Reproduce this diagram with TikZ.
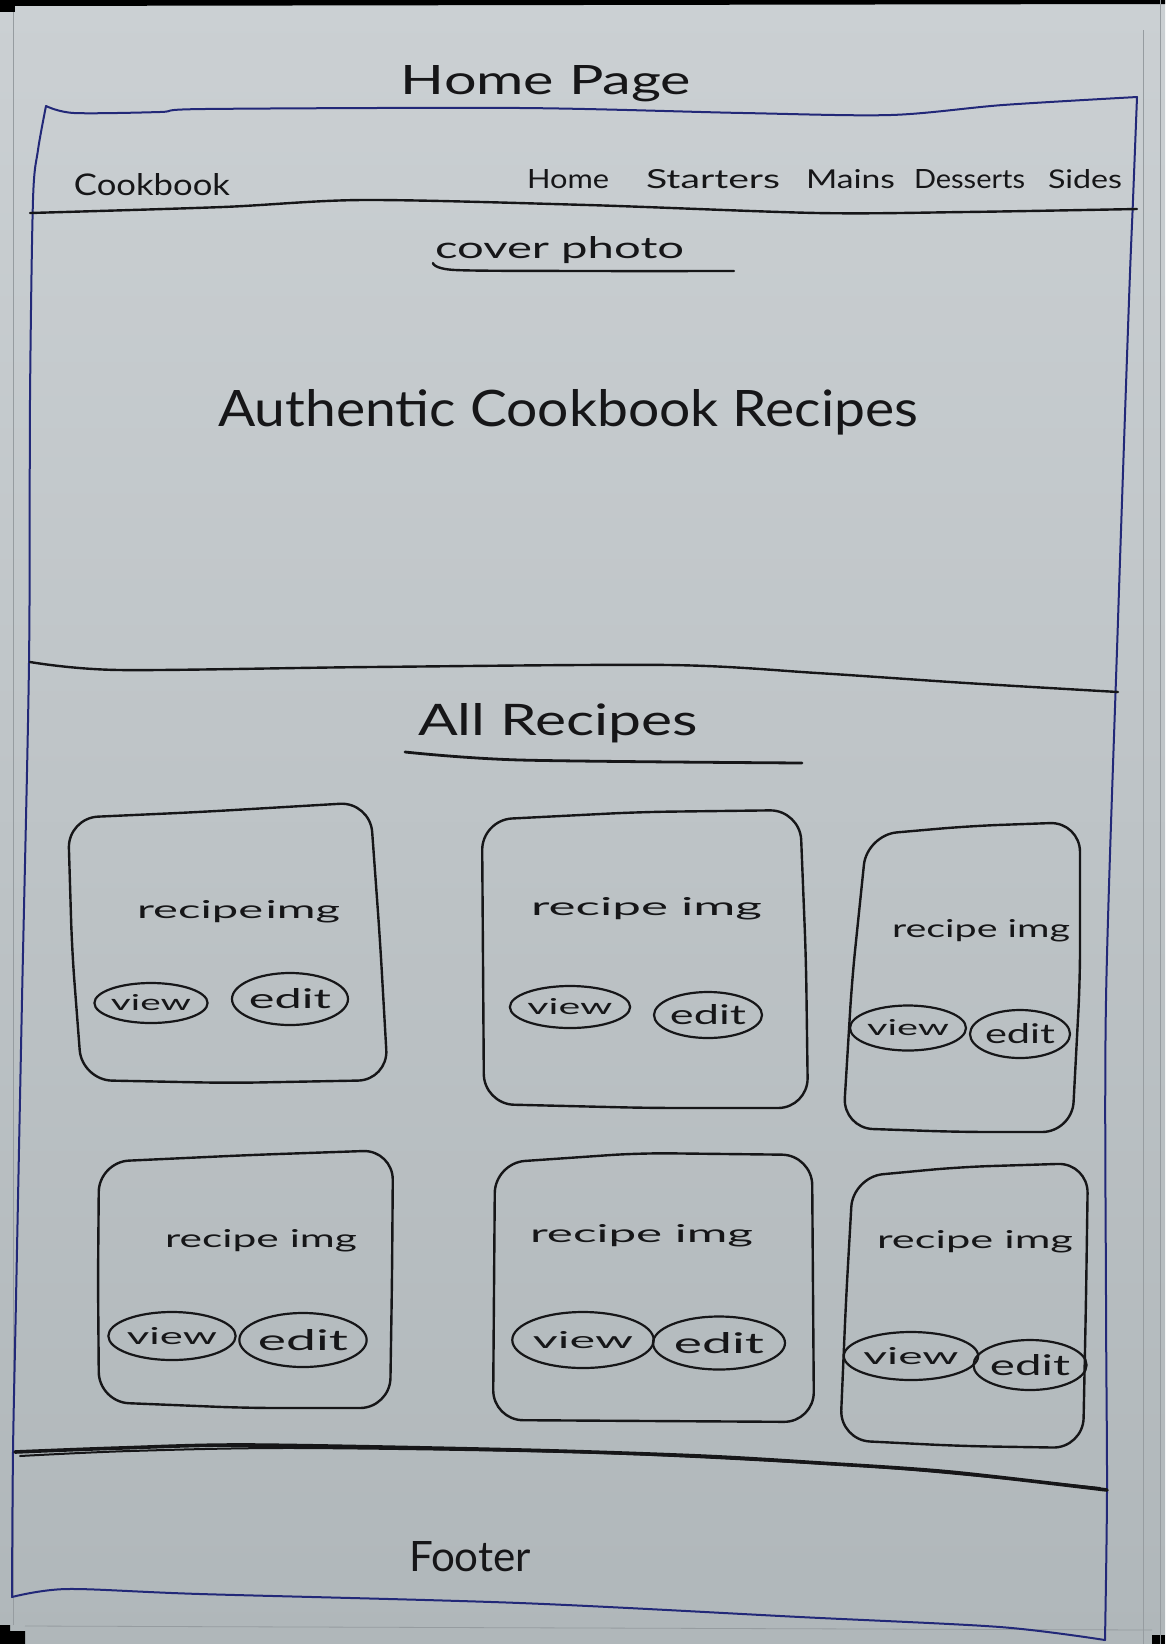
\documentclass[tikz,border=0pt]{standalone}
\usepackage{fontspec}
\setmainfont{Lato}
\usepackage{graphicx}
\usetikzlibrary{shapes.geometric}

\definecolor{papertop}{RGB}{203,208,211}
\definecolor{paperbot}{RGB}{176,183,186}
\definecolor{paperedge}{RGB}{150,156,160}
\definecolor{ink}{RGB}{22,22,24}
\definecolor{blueink}{RGB}{34,40,120}

% handwritten-looking label: text stretched to a given width and height (in pt)
\newcommand\hw[3]{\resizebox{#1pt}{#2pt}{#3}}

\tikzset{
  pen/.style={draw=ink, line width=2.4pt, line cap=round, line join=round},
  frame/.style={draw=blueink, line width=2pt, line cap=round, line join=round},
  card/.style={pen, rounded corners=30pt},
  lbl/.style={inner sep=0pt, outer sep=0pt, text=ink},
  btn/.style={ellipse, draw=ink, line width=2.2pt, inner sep=0pt, text=ink},
}

\begin{document}
\begin{tikzpicture}[x=1pt, y=-1pt]
\useasboundingbox (0,0) rectangle (1165,1644);

% paper and stacked sheet edges
\shade[top color=papertop, bottom color=paperbot] (0,0) rectangle (1165,1644);
\fill[black] (0,0) -- (1165,0) -- (1165,4) -- (0,6) -- cycle;
\fill[black] (0,0) rectangle (15,12);
\fill[black] (0,1625) -- (10,1625) -- (10,1631) -- (25,1631) -- (25,1644) -- (0,1644) -- cycle;
\fill[black] (1152,1635) rectangle (1165,1644);
\draw[paperedge, line width=1pt] (13,12) -- (13,1625);
\draw[paperedge, line width=0.8pt] (1143,30) -- (1143,1644);
\draw[paperedge, line width=0.8pt] (1160,0) -- (1160,1644);
\draw[paperedge, line width=0.8pt] (25,1626) -- (1152,1630);

% page frame (blue pen)
\draw[frame] plot[smooth, tension=0.5] coordinates {(46,106) (74,113) (160,112) (205,109) (520,108) (743,113) (891,115) (1003,105) (1137,97)};
\draw[frame] plot[smooth, tension=0.5] coordinates {(46,106) (38,150) (33,200) (30,400) (29,663) (22,1000) (16,1300) (13,1452) (12,1597)};
\draw[frame] plot[smooth, tension=0.5] coordinates {(1137,97) (1133,200) (1129,300) (1118,620) (1106,1000) (1106,1300) (1107,1490) (1105,1640)};
\draw[frame] plot[smooth, tension=0.5] coordinates {(12,1597) (67,1589) (200,1594) (520,1603) (800,1617) (1000,1627) (1105,1640)};

% title
\node[lbl, anchor=base] (title) at (546,94) {\hw{290}{29}{Home Page}};

% navigation bar
\node[lbl, anchor=base west] (brand) at (74,195) {\hw{156}{22}{Cookbook}};
\node[lbl, anchor=base west] (navhome) at (527,188) {\hw{82}{19}{Home}};
\node[lbl, anchor=base west] (navstart) at (646,188) {\hw{134}{19}{Starters}};
\node[lbl, anchor=base west] (navmain) at (806,188) {\hw{89}{19}{Mains}};
\node[lbl, anchor=base west] (navdess) at (914,188) {\hw{111}{19}{Desserts}};
\node[lbl, anchor=base west] (navside) at (1048,188) {\hw{74}{19}{Sides}};
\draw[pen] plot[smooth, tension=0.5] coordinates {(30,213) (223,207) (364,200) (587,205) (817,213) (966,212) (1137,209)};

% cover photo
\node[lbl, anchor=base west] (cover) at (435,258) {\hw{249}{22}{cover photo}};
\draw[pen] plot[smooth, tension=0.5] coordinates {(433,263) (455,270) (590,271) (734,271)};
\node[lbl, anchor=base west] (hero) at (218,426) {\hw{700}{37}{Authentic Cookbook Recipes}};
\draw[pen] plot[smooth, tension=0.5] coordinates {(30,662) (119,670) (371,667) (669,665) (817,673) (966,683) (1118,692)};

% all recipes
\node[lbl, anchor=base west] (allrec) at (418,735) {\hw{280}{32}{All Recipes}};
\draw[pen, line width=2.8pt] plot[smooth, tension=0.5] coordinates {(405,752) (520,760) (802,763)};

% recipe cards, first row
\draw[card] (68,818) -- (200,812) -- (370,802) -- (380,940) -- (388,1080) -- (230,1083) -- (82,1080) -- (72,950) -- cycle;
\draw[card] (482,820) -- (640,812) -- (800,810) -- (806,960) -- (808,1108) -- (650,1108) -- (484,1104) -- (483,960) -- cycle;
\draw[card] (867,835) -- (970,826) -- (1080,822) -- (1080,980) -- (1072,1132) -- (960,1132) -- (843,1128) -- (852,980) -- cycle;

\node[lbl, anchor=base west] (img1) at (137,918) {\hw{203}{18}{recipe\hspace{0.05em}img}};
\node[lbl, anchor=base west] (img2) at (531,915) {\hw{231}{18}{recipe img}};
\node[lbl, anchor=base west] (img3) at (892,937) {\hw{178}{18}{recipe img}};

\node[btn, minimum width=108pt, minimum height=40pt] (view1) at (151,1003) {\hw{80}{16}{view}};
\node[btn, minimum width=115pt, minimum height=52pt] (edit1) at (290,999) {\hw{82}{20}{edit}};
\node[btn, minimum width=115pt, minimum height=42pt] (view2) at (570,1007) {\hw{85}{16}{view}};
\node[btn, minimum width=108pt, minimum height=46pt] (edit2) at (708,1015) {\hw{76}{20}{edit}};
\node[btn, minimum width=110pt, minimum height=45pt] (view3) at (908,1028) {\hw{82}{16}{view}};
\node[btn, minimum width=100pt, minimum height=48pt] (edit3) at (1020,1034) {\hw{70}{20}{edit}};

% recipe cards, second row
\draw[card] (99,1162) -- (250,1155) -- (393,1150) -- (392,1280) -- (390,1408) -- (247,1408) -- (99,1402) -- (98,1280) -- cycle;
\draw[card] (495,1163) -- (640,1153) -- (812,1155) -- (813,1290) -- (814,1422) -- (650,1421) -- (493,1420) -- (494,1290) -- cycle;
\draw[card] (853,1177) -- (960,1167) -- (1088,1163) -- (1086,1300) -- (1083,1448) -- (960,1446) -- (840,1440) -- (846,1300) -- cycle;

\node[lbl, anchor=base west] (img4) at (165,1247) {\hw{192}{18}{recipe img}};
\node[lbl, anchor=base west] (img5) at (530,1242) {\hw{223}{18}{recipe img}};
\node[lbl, anchor=base west] (img6) at (877,1248) {\hw{196}{18}{recipe img}};

\node[btn, minimum width=118pt, minimum height=48pt] (view4) at (172,1336) {\hw{90}{17}{view}};
\node[btn, minimum width=127pt, minimum height=54pt] (edit4) at (303,1340) {\hw{90}{21}{edit}};
\node[btn, minimum width=135pt, minimum height=56pt] (view5) at (583,1340) {\hw{100}{17}{view}};
\node[btn, minimum width=132pt, minimum height=53pt] (edit5) at (719,1343) {\hw{90}{21}{edit}};
\node[btn, minimum width=128pt, minimum height=48pt] (view6) at (911,1356) {\hw{95}{17}{view}};
\node[btn, minimum width=106pt, minimum height=50pt] (edit6) at (1030,1365) {\hw{80}{21}{edit}};

% footer
\draw[pen, line width=3.6pt] plot[smooth, tension=0.5] coordinates {(15,1452) (120,1448) (250,1445) (520,1450) (700,1456) (820,1463) (950,1472) (1107,1490)};
\draw[pen, line width=2pt] plot[smooth, tension=0.5] coordinates {(20,1456) (130,1451) (300,1448) (600,1453) (860,1466) (1000,1478) (1100,1488)};
\node[lbl, anchor=base west] (footer) at (409,1571) {\hw{122}{30}{Footer}};

\end{tikzpicture}
\end{document}
